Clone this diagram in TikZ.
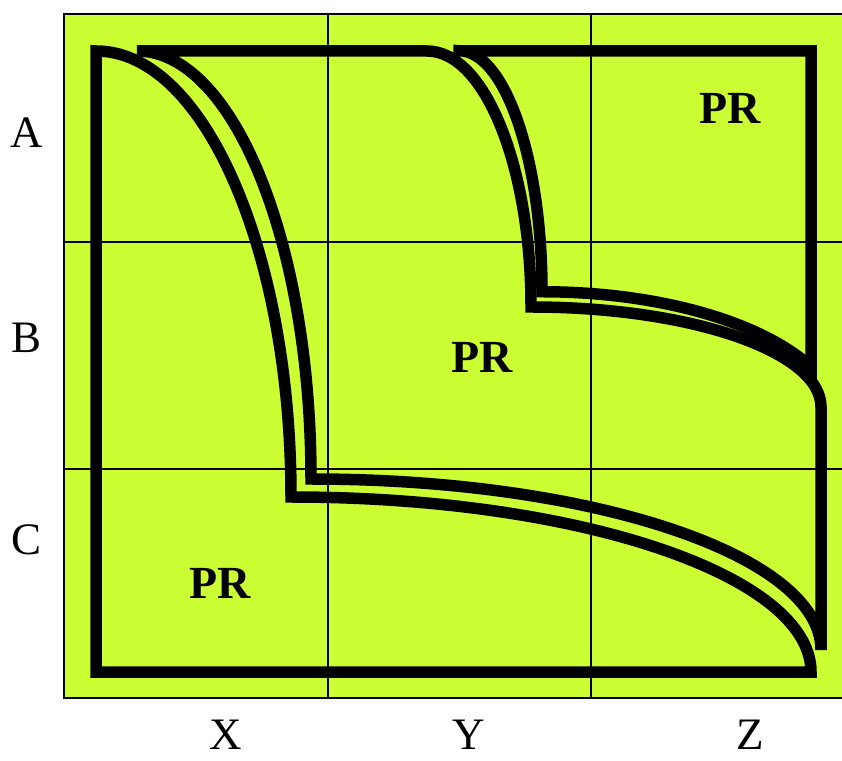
\documentclass[tikz,border=0pt]{standalone}
\usepackage{fontspec}
\setmainfont{Liberation Serif}
\usetikzlibrary{positioning}
\definecolor{fieldgreen}{HTML}{CCFF33}

\begin{document}
\begin{tikzpicture}[
  x=1pt, y=1pt,
  every node/.style={font=\fontsize{45}{54}\selectfont, inner sep=0pt},
  grid/.style={line width=2pt},
  region/.style={line width=11.5pt, line join=miter},
  pr/.style={font=\fontsize{46}{54}\selectfont\bfseries},
]
\useasboundingbox (0,0) rectangle (842,760);

\draw[grid, fill=fieldgreen] (64,62) rectangle (848,746);
\draw[grid] (328,62) -- (328,746);
\draw[grid] (591,62) -- (591,746);
\draw[grid] (64,518) -- (848,518);
\draw[grid] (64,291) -- (848,291);

\draw[region] (96,709) -- (96,88) -- (811,88)
  arc[start angle=0, end angle=90, x radius=520, y radius=175]
  arc[start angle=0, end angle=90, x radius=195, y radius=446] -- cycle;
\draw[region] (137,709) -- (427,709)
  arc[start angle=90, end angle=0, x radius=104, y radius=256]
  arc[start angle=90, end angle=0, x radius=290, y radius=100]
  -- (821,110)
  arc[start angle=0, end angle=90, x radius=510, y radius=171]
  arc[start angle=0, end angle=90, x radius=174, y radius=428] -- cycle;
\draw[region] (459,709) -- (811,709) -- (811,393)
  arc[start angle=26.27, end angle=90, x radius=300, y radius=135]
  arc[start angle=0, end angle=90, x radius=83, y radius=241] -- cycle;

\node (rowA) at (27,627) {A};
\node (rowB) at (27,422) {B};
\node (rowC) at (27,220) {C};
\node (colX) at (226,25) {X};
\node (colY) at (469,25) {Y};
\node (colZ) at (750,25) {Z};
\node[pr] (prTop) at (730,652) {PR};
\node[pr] (prMid) at (482,403) {PR};
\node[pr] (prLow) at (220,177) {PR};
\end{tikzpicture}
\end{document}
